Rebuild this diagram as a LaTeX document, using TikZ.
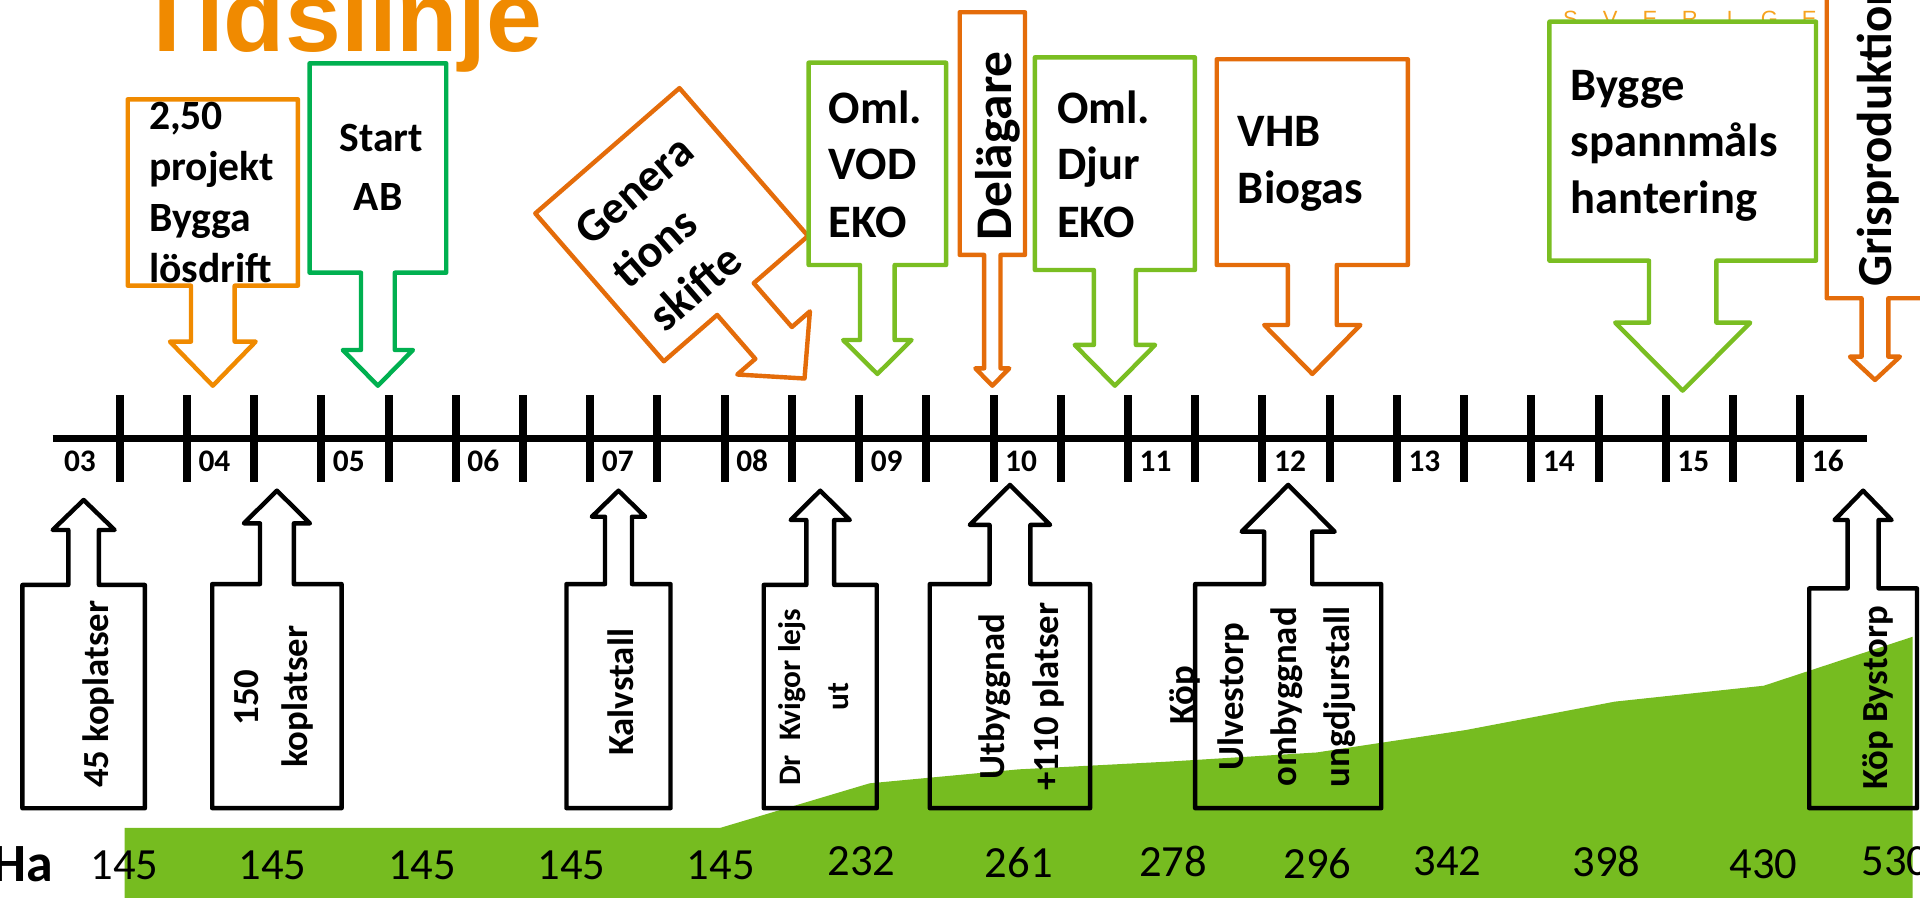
\documentclass[tikz,border=0pt]{standalone}
\usepackage{fontspec}
\setmainfont{Carlito}
\newfontfamily\titlefont{Liberation Sans}
\definecolor{lorange}{RGB}{240,138,0}
\definecolor{dorange}{RGB}{228,108,10}
\definecolor{sgreen}{RGB}{0,176,80}
\definecolor{lgreen}{RGB}{122,190,34}
\definecolor{agreen}{RGB}{118,188,32}
\definecolor{sverorange}{RGB}{246,162,30}
\newcommand{\ArrowBox}[9]{%
  \draw[#1] ({#2-#3},#4) -- ({#2+#3},#4) -- ({#2+#3},#5) -- ({#2+#6},#5) -- ({#2+#6},#8)
   -- ({#2+#7},#8) -- (#2,#9) -- ({#2-#7},#8) -- ({#2-#6},#8) -- ({#2-#6},#5) -- ({#2-#3},#5) -- cycle;}
\tikzset{
  every node/.style={inner sep=0pt, outer sep=0pt},
  dbox/.style={line width=1.8pt, line join=round, fill=white},
  ubox/.style={line width=1.8pt, line join=round, draw=black},
  ttxt/.style={anchor=base west, font=\bfseries\fontsize{19}{19}\selectfont},
  stxt/.style={font=\bfseries\fontsize{17}{17}\selectfont},
  vtxt/.style={anchor=center, rotate=90, font=\bfseries\fontsize{15}{15}\selectfont},
  yr/.style={anchor=base, font=\bfseries\fontsize{12.8}{12.8}\selectfont},
  val/.style={anchor=base, font=\fontsize{18.2}{18.2}\selectfont},
  tick/.style={line width=3.25pt},
}
\begin{document}
\begin{tikzpicture}[x=0.5pt,y=-0.5pt]
\useasboundingbox (0,0) rectangle (1568,733);
\clip (0,0) rectangle (1568,733);
% area
\fill[agreen] (101.7,676) -- (588.5,676) -- (710.2,639.7) -- (831.9,628.3) -- (953.6,622)
  -- (1075.3,614.5) -- (1197,596.2) -- (1318.7,573) -- (1440.4,560) -- (1562,520)
  -- (1562,740) -- (101.7,740) -- cycle;
% title
\node[anchor=base west, text=lorange, font=\titlefont\bfseries\fontsize{41}{41}\selectfont] (title) at (111.5,42.2) {Tidslinje};
% SVERIGE
\foreach \l [count=\i from 0] in {S,V,E,R,I,G,E}
  \node[anchor=base, text=sverorange, font=\titlefont\fontsize{9}{9}\selectfont] (sv\i) at ({1282.5+32.5*\i},21.5) {\l};
% timeline
\draw[line width=3.15pt] (43,358.2) -- (1524.7,358.2);
\foreach \k in {0,...,25}
  \draw[tick] ({97.7+54.9*\k},322.6) -- ({97.7+54.9*\k},393.4);
\foreach \y [count=\i from 0] in {03,04,05,06,07,08,09,10,11,12,13,14,15,16}
  \node[yr] (yr\i) at ({65.3+109.8*\i},385.2) {\y};
% values
\foreach \v/\x/\b [count=\i] in {145/101.7/718.6,145/222.5/718.6,145/344.7/718.6,145/466.8/718.6,145/588.6/718.6,
   232/703.5/714.6,261/832/717,278/958/716,296/1076/717.3,342/1182/714.6,398/1312/716,430/1440/717.3,530/1548/714.6}
  \node[val] (val\i) at (\x,\b) {\v};
\node[anchor=base west, font=\bfseries\fontsize{22}{22}\selectfont] (ha) at (-6,720) {Ha};
% top callouts
\ArrowBox{dbox,draw=lorange}{173.8}{69.5}{81.1}{233.3}{17.85}{35}{279}{315}
\node[stxt, anchor=base west] (t1a) at (121.7,106) {2,50};
\node[stxt, anchor=base west] (t1b) at (121.7,147.5) {projekt};
\node[stxt, anchor=base west] (t1c) at (121.7,189) {Bygga};
\node[stxt, anchor=base west] (t1d) at (121.7,231) {lösdrift};
\ArrowBox{dbox,draw=sgreen}{308.6}{55.8}{51.7}{222.7}{13.8}{28.65}{285.8}{315}
\node[stxt, anchor=base] (t2a) at (311.2,124) {Start};
\node[stxt, anchor=base] (t2b) at (308.9,172) {AB};
% Generationsskifte
\begin{scope}[shift={(548.5,183.5)}, rotate=41]
  \draw[dbox, draw=dorange] (-78,-80) -- (78,-80) -- (78,80) -- (19.3,80) -- (19.3,127.5) -- (38.8,127.5)
    -- (-0.5,166) -- (-39.8,127.5) -- (-20.3,127.5) -- (-20.3,80) -- (-78,80) -- cycle;
  \node[ttxt, transform shape] (g1) at (-62,-29) {Genera};
  \node[ttxt, transform shape] (g2) at (-62,17.5) {tions};
  \node[ttxt, transform shape] (g3) at (-62,64) {skifte};
\end{scope}
\ArrowBox{dbox,draw=lgreen}{716.5}{56.15}{51.2}{216.4}{14.15}{27.95}{277.7}{305.4}
\node[ttxt] (t4a) at (677,100.7) {Oml.};
\node[ttxt] (t4b) at (677,147) {VOD};
\node[ttxt] (t4c) at (677,193.8) {EKO};
\ArrowBox{dbox,draw=dorange}{810.4}{26.65}{10}{208.2}{6.7}{13.85}{300.8}{315}
\node[anchor=base west, rotate=90, font=\bfseries\fontsize{21}{21}\selectfont] (t5) at (826,196) {Delägare};
\ArrowBox{dbox,draw=lgreen}{910.5}{65.35}{46.8}{220.5}{17.15}{32.85}{281.7}{315}
\node[ttxt] (t6a) at (863.3,100.7) {Oml.};
\node[ttxt] (t6b) at (863.3,147) {Djur};
\node[ttxt] (t6c) at (863.3,193.8) {EKO};
\ArrowBox{dbox,draw=dorange}{1071.7}{78.05}{48.4}{216.4}{20}{39.3}{265.4}{305.4}
\node[ttxt] (t7a) at (1011,119.8) {VHB};
\node[ttxt] (t7b) at (1011,166) {Biogas};
\ArrowBox{dbox,draw=lgreen}{1374.2}{108.85}{17.7}{212.9}{27.5}{55.15}{263.5}{319}
\node[ttxt] (t8a) at (1282.6,81.7) {Bygge};
\node[ttxt] (t8b) at (1282.6,128) {spannmåls};
\node[ttxt] (t8c) at (1282.6,174.2) {hantering};
\ArrowBox{dbox,draw=dorange}{1531.2}{39.4}{-20}{243.6}{10.9}{20.4}{291.3}{310.3}
\node[anchor=base west, rotate=90, font=\bfseries\fontsize{20}{20}\selectfont] (t9) at (1544.8,234.1) {Grisproduktion};
% bottom callouts
\ArrowBox{ubox}{68.3}{50}{660.1}{477.7}{12.5}{25.3}{432.8}{408.3}
\node[vtxt] (b1) at (80.8,567) {45 koplatser};
\ArrowBox{ubox}{226.15}{52.85}{660}{477}{13.8}{27}{427.4}{400.7}
\node[vtxt] (b2a) at (201.7,569.6) {150};
\node[vtxt] (b2b) at (242.7,569) {koplatser};
\ArrowBox{ubox}{505.1}{42.5}{660}{477}{11}{21.8}{422}{400.7}
\node[vtxt] (b3) at (506.6,565.5) {Kalvstall};
\ArrowBox{ubox}{669.85}{46.15}{660}{477.7}{11.35}{24.15}{424.7}{400.7}
\node[vtxt, font=\bfseries\fontsize{12.8}{12.8}\selectfont] (b4a) at (646.6,569.6) {Dr~\ Kvigor lejs};
\node[vtxt, font=\bfseries\fontsize{12.8}{12.8}\selectfont] (b4b) at (685.3,569.2) {ut};
\ArrowBox{ubox}{824.8}{65.5}{660}{477}{16.65}{32.8}{428.7}{396}
\node[vtxt] (b5a) at (812,569) {Utbyggnad};
\node[vtxt] (b5b) at (856,569) {+110 platser};
\ArrowBox{ubox}{1052}{76}{660}{477}{19.65}{38}{434.2}{396}
\node[vtxt] (b6a) at (967.7,568) {Köp};
\node[vtxt] (b6b) at (1007.7,569) {Ulvestorp};
\node[vtxt] (b6c) at (1051,569) {ombyggnad};
\node[vtxt] (b6d) at (1093.7,569) {ungdjurstall};
\ArrowBox{ubox}{1521.5}{44}{660}{480.5}{12.65}{23.3}{424.7}{400.7}
\node[vtxt] (b7) at (1533.7,570) {Köp Bystorp};
\end{tikzpicture}
\end{document}
